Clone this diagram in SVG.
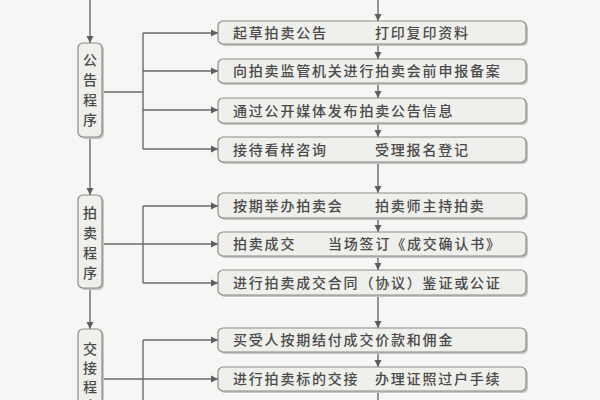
<svg xmlns="http://www.w3.org/2000/svg" width="600" height="400" viewBox="0 0 600 400">
<defs>
<style>
.bg{fill:#f6f6f4}
.box{fill:#efefec;stroke:#8c8c8c;stroke-width:1.2}
.sh{fill:#c4c4c2}
.ln{stroke:#6a6a6a;stroke-width:1.4;fill:none}
.t{font-family:"Noto Sans CJK SC","Noto Sans",sans-serif;font-size:14px;fill:#4a4a4a;letter-spacing:1.8px;font-weight:500}
.v{font-family:"Noto Sans CJK SC","Noto Sans",sans-serif;font-size:14px;fill:#4a4a4a;text-anchor:middle;font-weight:500}
</style>
<marker id="ah" markerWidth="8" markerHeight="8" refX="7" refY="4" orient="auto" markerUnits="userSpaceOnUse">
<path d="M0,0.5 L7,4 L0,7.5 Z" fill="#5e5e5e"/>
</marker>
</defs>
<rect class="bg" x="0" y="0" width="600" height="400"/>

<g id="connectors">
<line class="ln" x1="90" y1="0" x2="90" y2="43" marker-end="url(#ah)"/>
<line class="ln" x1="90" y1="137" x2="90" y2="195" marker-end="url(#ah)"/>
<line class="ln" x1="90" y1="288" x2="90" y2="329" marker-end="url(#ah)"/>
<line class="ln" x1="102" y1="92" x2="143" y2="92"/>
<line class="ln" x1="143" y1="33" x2="143" y2="149"/>
<line class="ln" x1="143" y1="33" x2="218" y2="33" marker-end="url(#ah)"/>
<line class="ln" x1="143" y1="71" x2="218" y2="71" marker-end="url(#ah)"/>
<line class="ln" x1="143" y1="110" x2="218" y2="110" marker-end="url(#ah)"/>
<line class="ln" x1="143" y1="149" x2="218" y2="149" marker-end="url(#ah)"/>
<line class="ln" x1="143" y1="206" x2="143" y2="283"/>
<line class="ln" x1="143" y1="206" x2="218" y2="206" marker-end="url(#ah)"/>
<line class="ln" x1="102" y1="244" x2="218" y2="244" marker-end="url(#ah)"/>
<line class="ln" x1="143" y1="283" x2="218" y2="283" marker-end="url(#ah)"/>
<line class="ln" x1="143" y1="340" x2="143" y2="402"/>
<line class="ln" x1="143" y1="340" x2="218" y2="340" marker-end="url(#ah)"/>
<line class="ln" x1="102" y1="379" x2="218" y2="379" marker-end="url(#ah)"/>
<line class="ln" x1="378" y1="0" x2="378" y2="21" marker-end="url(#ah)"/>
<line class="ln" x1="378" y1="44" x2="378" y2="59" marker-end="url(#ah)"/>
<line class="ln" x1="378" y1="83" x2="378" y2="98" marker-end="url(#ah)"/>
<line class="ln" x1="378" y1="123" x2="378" y2="137" marker-end="url(#ah)"/>
<line class="ln" x1="378" y1="162" x2="378" y2="193" marker-end="url(#ah)"/>
<line class="ln" x1="378" y1="218" x2="378" y2="232" marker-end="url(#ah)"/>
<line class="ln" x1="378" y1="256" x2="378" y2="270" marker-end="url(#ah)"/>
<line class="ln" x1="378" y1="295" x2="378" y2="328" marker-end="url(#ah)"/>
<line class="ln" x1="378" y1="352" x2="378" y2="367" marker-end="url(#ah)"/>
<line class="ln" x1="378" y1="391" x2="378" y2="402"/>
</g>

<g id="stage1">
<rect class="sh" x="80" y="45" width="24" height="94" rx="5"/>
<rect class="box" x="78" y="43" width="24" height="94" rx="5"/>
<text class="v" x="90" y="65">公</text>
<text class="v" x="90" y="85">告</text>
<text class="v" x="90" y="105">程</text>
<text class="v" x="90" y="125">序</text>
</g>
<g id="stage2">
<rect class="sh" x="80" y="197" width="24" height="93" rx="5"/>
<rect class="box" x="78" y="195" width="24" height="93" rx="5"/>
<text class="v" x="90" y="218">拍</text>
<text class="v" x="90" y="238">卖</text>
<text class="v" x="90" y="258">程</text>
<text class="v" x="90" y="278">序</text>
</g>
<g id="stage3">
<rect class="sh" x="80" y="331" width="24" height="94" rx="5"/>
<rect class="box" x="78" y="329" width="24" height="94" rx="5"/>
<text class="v" x="90" y="354">交</text>
<text class="v" x="90" y="373">接</text>
<text class="v" x="90" y="392">程</text>
<text class="v" x="90" y="411">序</text>
</g>

<g id="n1">
<rect class="sh" x="220" y="23" width="308" height="23" rx="5"/>
<rect class="box" x="218" y="21" width="308" height="23" rx="5"/>
<text class="t" x="233" y="37.5">起草拍卖公告</text>
<text class="t" x="375" y="37.5">打印复印资料</text>
</g>
<g id="n2">
<rect class="sh" x="220" y="61" width="308" height="24" rx="5"/>
<rect class="box" x="218" y="59" width="308" height="24" rx="5"/>
<text class="t" x="233" y="76">向拍卖监管机关进行拍卖会前申报备案</text>
</g>
<g id="n3">
<rect class="sh" x="220" y="100" width="308" height="25" rx="5"/>
<rect class="box" x="218" y="98" width="308" height="25" rx="5"/>
<text class="t" x="233" y="115.5">通过公开媒体发布拍卖公告信息</text>
</g>
<g id="n4">
<rect class="sh" x="220" y="139" width="308" height="25" rx="5"/>
<rect class="box" x="218" y="137" width="308" height="25" rx="5"/>
<text class="t" x="233" y="154.5">接待看样咨询</text>
<text class="t" x="375" y="154.5">受理报名登记</text>
</g>
<g id="n5">
<rect class="sh" x="220" y="195" width="308" height="25" rx="5"/>
<rect class="box" x="218" y="193" width="308" height="25" rx="5"/>
<text class="t" x="233" y="210.5">按期举办拍卖会</text>
<text class="t" x="375" y="210.5">拍卖师主持拍卖</text>
</g>
<g id="n6">
<rect class="sh" x="220" y="234" width="308" height="24" rx="5"/>
<rect class="box" x="218" y="232" width="308" height="24" rx="5"/>
<text class="t" x="233" y="249">拍卖成交</text>
<text class="t" x="328" y="249">当场签订《成交确认书》</text>
</g>
<g id="n7">
<rect class="sh" x="220" y="272" width="308" height="25" rx="5"/>
<rect class="box" x="218" y="270" width="308" height="25" rx="5"/>
<text class="t" x="233" y="287.5">进行拍卖成交合同（协议）鉴证或公证</text>
</g>
<g id="n8">
<rect class="sh" x="220" y="330" width="308" height="24" rx="5"/>
<rect class="box" x="218" y="328" width="308" height="24" rx="5"/>
<text class="t" x="233" y="345">买受人按期结付成交价款和佣金</text>
</g>
<g id="n9">
<rect class="sh" x="220" y="369" width="308" height="24" rx="5"/>
<rect class="box" x="218" y="367" width="308" height="24" rx="5"/>
<text class="t" x="233" y="384">进行拍卖标的交接</text>
<text class="t" x="375" y="384">办理证照过户手续</text>
</g>
</svg>
